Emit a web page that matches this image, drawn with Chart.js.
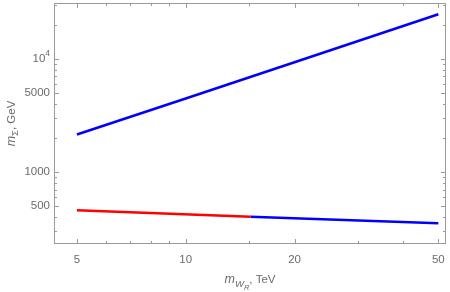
<!DOCTYPE html>
<html>
<head>
<meta charset="utf-8">
<script src="https://cdn.jsdelivr.net/npm/chart.js@4.4.1/dist/chart.umd.min.js"></script>
<style>
  html, body { margin: 0; padding: 0; background: #fff; }
  canvas { display: block; }
</style>
</head>
<body>
<canvas id="massPlot" width="450" height="292"></canvas>
<script>
// values (log-log plot)
const upperX = [5, 10, 20, 50];
const upperY = [2150, 4480, 9350, 24800];   // blue, rising
const lowRedX = [5, 15.1];
const lowRedY = [461, 404];                // red, lower-left part
const lowBlueX = [15.1, 50];
const lowBlueY = [404, 354];               // blue, lower-right part

const xMajor = [5, 10, 20, 50];
const xMinor = [6, 7, 8, 9, 15, 30, 40];
const yMajor = [500, 1000, 5000, 10000];
const yMinor = [300, 400, 600, 700, 800, 900, 2000, 3000, 4000, 6000, 7000, 8000, 9000, 20000, 30000];

const axisGrey = '#9b9b9b';
const labelGrey = '#6b6b6b';
const fontFam = '"Liberation Sans", Arial, sans-serif';

function pts(xs, ys) {
    return xs.map((x, i) => ({ x: x, y: ys[i] }));
}

// Mathematica-style frame with inward ticks on all sides + axis titles
const frameTicks = {
    id: 'frameTicks',
    afterDraw(chart) {
        const ctx = chart.ctx;
        const a = chart.chartArea;
        const xs = chart.scales.x, ys = chart.scales.y;
        ctx.save();
        ctx.strokeStyle = axisGrey;
        ctx.lineWidth = 1;
        ctx.strokeRect(Math.round(a.left) + 0.5, Math.round(a.top) + 0.5,
            Math.round(a.right - a.left) - 1, Math.round(a.bottom - a.top) - 1);

        ctx.beginPath();
        const xt = (v, len) => {
            const p = Math.round(xs.getPixelForValue(v)) + 0.5;
            ctx.moveTo(p, a.bottom); ctx.lineTo(p, a.bottom - len);
            ctx.moveTo(p, a.top); ctx.lineTo(p, a.top + len);
        };
        const yt = (v, len) => {
            const p = Math.round(ys.getPixelForValue(v)) + 0.5;
            ctx.moveTo(a.left, p); ctx.lineTo(a.left + len, p);
            ctx.moveTo(a.right, p); ctx.lineTo(a.right - len, p);
        };
        xMajor.forEach(v => xt(v, 5));
        xMinor.forEach(v => xt(v, 3));
        yMajor.forEach(v => yt(v, 5));
        yMinor.forEach(v => yt(v, 3));
        ctx.stroke();

        ctx.fillStyle = labelGrey;

        // 10^4 tick label with a proper superscript
        const py = ys.getPixelForValue(10000);
        ctx.textBaseline = 'middle';
        ctx.textAlign = 'left';
        ctx.font = '8.5px ' + fontFam;
        const supW = ctx.measureText('4').width;
        ctx.font = '11.5px ' + fontFam;
        const baseW = ctx.measureText('10').width;
        const lx = a.left - 4 - supW - baseW;
        ctx.fillText('10', lx, py);
        ctx.font = '8.5px ' + fontFam;
        ctx.fillText('4', lx + baseW, py - 5);

        // x title: m_{W_R}, TeV
        ctx.textBaseline = 'alphabetic';
        const parts = [
            { t: 'm', f: 'italic 12.5px ' + fontFam, dy: 0 },
            { t: 'W', f: 'italic 9.5px ' + fontFam, dy: 4 },
            { t: 'R', f: 'italic 7.5px ' + fontFam, dy: 7 },
            { t: ', TeV', f: '11.5px ' + fontFam, dy: 0 }
        ];
        let w = 0;
        parts.forEach(p => { ctx.font = p.f; p.w = ctx.measureText(p.t).width; w += p.w; });
        let x0 = (a.left + a.right) / 2 - w / 2;
        parts.forEach(p => { ctx.font = p.f; ctx.fillText(p.t, x0, 283 + p.dy); x0 += p.w; });

        // y title: m_Σ, GeV (rotated)
        ctx.translate(15, (a.top + a.bottom) / 2);
        ctx.rotate(-Math.PI / 2);
        const yparts = [
            { t: 'm', f: 'italic 12.5px ' + fontFam, dy: 0 },
            { t: 'Σ', f: '9.5px ' + fontFam, dy: 3 },
            { t: ', GeV', f: '11.5px ' + fontFam, dy: 0 }
        ];
        w = 0;
        yparts.forEach(p => { ctx.font = p.f; p.w = ctx.measureText(p.t).width; w += p.w; });
        x0 = -w / 2;
        yparts.forEach(p => { ctx.font = p.f; ctx.fillText(p.t, x0, p.dy); x0 += p.w; });
        ctx.restore();
    }
};

const lineStyle = { showLine: true, pointRadius: 0, borderWidth: 2.6, fill: false, tension: 0 };

new Chart(document.getElementById('massPlot').getContext('2d'), {
    type: 'scatter',
    data: {
        datasets: [
            Object.assign({ label: 'upper', data: pts(upperX, upperY), borderColor: '#0000ff' }, lineStyle),
            Object.assign({ label: 'lower red', data: pts(lowRedX, lowRedY), borderColor: '#ff0000' }, lineStyle),
            Object.assign({ label: 'lower blue', data: pts(lowBlueX, lowBlueY), borderColor: '#0000ff' }, lineStyle)
        ]
    },
    options: {
        responsive: false,
        devicePixelRatio: 1,
        animation: false,
        layout: { padding: { top: 3, right: 4, left: 0, bottom: 0 } },
        plugins: { legend: { display: false }, tooltip: { enabled: false } },
        scales: {
            x: {
                type: 'logarithmic',
                min: 4.32,
                max: 52.5,
                grid: { display: false, drawTicks: false },
                border: { display: false },
                afterFit: s => { s.height = 48; s.paddingLeft = 0; s.paddingRight = 0; },
                afterBuildTicks: s => { s.ticks = xMajor.map(v => ({ value: v })); },
                ticks: {
                    autoSkip: false,
                    maxRotation: 0,
                    padding: 9,
                    color: labelGrey,
                    font: { family: fontFam, size: 11.5 },
                    callback: v => String(v)
                }
            },
            y: {
                type: 'logarithmic',
                min: 232,
                max: 31200,
                grid: { display: false, drawTicks: false },
                border: { display: false },
                afterFit: s => { s.width = 54; s.paddingTop = 0; s.paddingBottom = 0; },
                afterBuildTicks: s => { s.ticks = yMajor.map(v => ({ value: v })); },
                ticks: {
                    autoSkip: false,
                    padding: 4,
                    color: labelGrey,
                    font: { family: fontFam, size: 11.5 },
                    // 10^4 is drawn by the plugin with a real superscript
                    callback: v => (v === 10000 ? '' : String(v))
                }
            }
        }
    },
    plugins: [frameTicks]
});
</script>
</body>
</html>
